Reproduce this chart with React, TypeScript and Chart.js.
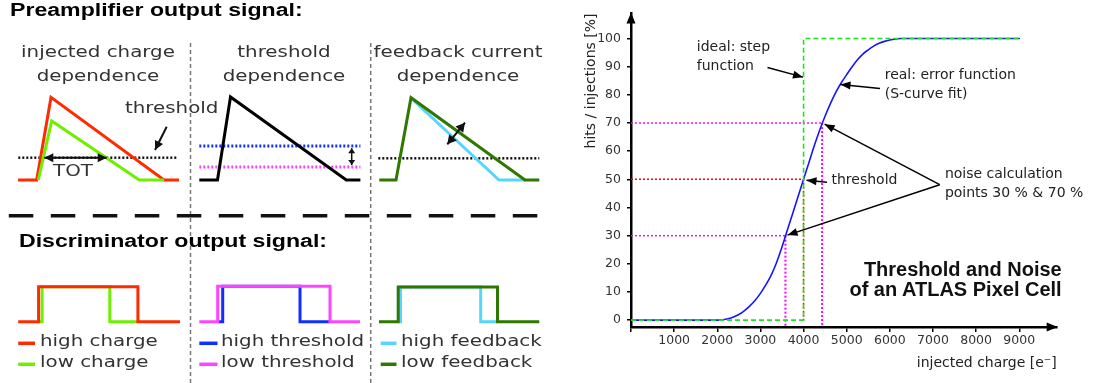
import React, { useEffect, useRef } from 'react';
import { Chart, registerables } from 'chart.js';

Chart.register(...registerables);

type P = [number, number];

// ---------------- Left schematic (time / signal in schematic units) ----------------
// Preamplifier output signals
const preHighCharge: P[] = [[18, 180], [36.7, 180], [51, 97.3], [164, 180], [179, 180]];
const preLowCharge: P[] = [[38.3, 180], [51.7, 121], [139.3, 180], [164, 180]];
const thresholdLine1: P[] = [[18.3, 157.7], [178.3, 157.7]];
const totArrow: P[] = [[44.3, 157.7], [106.7, 157.7]];
const thresholdPointer: P[] = [[166.7, 126.7], [155, 150]];

const preThresholdPulse: P[] = [[199.3, 180], [217.5, 180], [230.5, 97], [346.3, 180], [360.4, 180]];
const highThresholdLine: P[] = [[199.3, 146], [360.4, 146]];
const lowThresholdLine: P[] = [[199.3, 167], [360.4, 167]];
const thresholdShift: P[] = [[351.7, 148.3], [351.7, 165]];

const preLowFeedback: P[] = [[379.3, 180], [396, 180], [411, 97.7], [525, 180], [539.3, 180]];
const preHighFeedback: P[] = [[412, 99], [499, 180], [525, 180]];
const thresholdLine3: P[] = [[378.3, 158.3], [539.3, 158.3]];
const feedbackArrow: P[] = [[465, 122.7], [447.3, 144.3]];

// Discriminator output signals
const discHighCharge: P[] = [[18.2, 321.7], [38.6, 321.7], [38.6, 286.7], [137.9, 286.7], [137.9, 321.7], [180, 321.7]];
const discLowCharge: P[] = [[38.6, 321.7], [42.1, 321.7], [42.1, 286.7], [109.8, 286.7], [109.8, 321.7], [137.9, 321.7]];
const discLowThreshold: P[] = [[199.3, 321.7], [217.7, 321.7], [217.7, 286.2], [330, 286.2], [330, 321.7], [360, 321.7]];
const discHighThreshold: P[] = [[217.7, 321.7], [222.7, 321.7], [222.7, 286.2], [300, 286.2], [300, 321.7], [330, 321.7]];
const discLowFeedback: P[] = [[379, 321.7], [398.2, 321.7], [398.2, 287], [497.5, 287], [497.5, 321.7], [539.3, 321.7]];
const discHighFeedback: P[] = [[398.2, 321.7], [400.5, 321.7], [400.5, 287], [480.7, 287], [480.7, 321.7], [497.5, 321.7]];

// legend swatches
const swRed: P[] = [[18.2, 343.3], [35, 343.3]];
const swGreen: P[] = [[18.2, 364.3], [35, 364.3]];
const swBlue: P[] = [[199.3, 343.3], [217.5, 343.3]];
const swMagenta: P[] = [[199.3, 364.3], [217.5, 364.3]];
const swLightBlue: P[] = [[380.7, 343.3], [396.5, 343.3]];
const swDarkGreen: P[] = [[380.7, 364.3], [396.5, 364.3]];

// separators
const sep1: P[] = [[190.5, 43], [190.5, 383]];
const sep2: P[] = [[370.7, 43], [370.7, 383]];
const sectionDivider: P[] = [[8.8, 215.7], [540.4, 215.7]];

// ---------------- Right chart data ----------------
const chargeTicks = [0, 1000, 2000, 3000, 4000, 5000, 6000, 7000, 8000, 9000];
const hitTicks = [0, 10, 20, 30, 40, 50, 60, 70, 80, 90, 100];
const sCurveCharge = [
  0, 1000, 2000, 2125, 2250, 2375, 2500, 2625, 2750, 2875, 3000, 3125, 3250, 3375, 3500, 3625, 3750, 3875,
  4000, 4125, 4250, 4375, 4500, 4625, 4750, 4875, 5000, 5125, 5250, 5375, 5500, 5625, 5750, 5875, 6000,
  6125, 6250, 7000, 8000, 9000,
];
const sCurveHits = [
  0, 0, 0, 0.15, 0.5, 1.1, 2, 3.3, 5, 7, 9.5, 12.5, 16, 20.5, 26, 32, 38, 44,
  50, 56, 62, 67.5, 72.5, 77, 81, 84.3, 87.2, 90, 92.5, 94.5, 96, 97.3, 98.3, 99, 99.5,
  99.85, 100, 100, 100, 100,
];
const stepCharge = [0, 4000, 4000, 9000];
const stepHits = [0, 0, 100, 100];
const thresholdCharge = 4000;
const noise30Charge = 3580;
const noise70Charge = 4430;
const X_MAX = 9868;
const Y_MIN = -2.43;
const Y_MAX = 108.9;

const idealArrow: P[] = [[3164, 89.7], [3987, 86.3]];
const realArrow: P[] = [[5772, 82.3], [4856, 83.7]];
const thresholdArrow: P[] = [[4543, 49.0], [4068, 49.7]];
const noiseArrow70: P[] = [[7156, 48.1], [4488, 69.6]];
const noiseArrow30: P[] = [[7156, 48.1], [3628, 30.2]];

// ---------------- helpers ----------------
const RED = '#ff2a00';
const LGREEN = '#6cf000';
const BLUE = '#1030ff';
const MAGENTA = '#ff44ff';
const LBLUE = '#55d5ff';
const DGREEN = '#2f7800';

function seg(data: P[], color: string, width: number, extra: any = {}) {
  return {
    data: data.map(([x, y]) => ({ x, y })),
    borderColor: color,
    backgroundColor: color,
    borderWidth: width,
    pointRadius: 0,
    pointHoverRadius: 0,
    fill: false,
    tension: 0,
    borderCapStyle: 'butt',
    borderJoinStyle: 'miter',
    ...extra,
  };
}

function withOrder(list: any[]) {
  // list is bottom-to-top; Chart.js draws higher order first
  return list.map((d, i) => ({ ...d, order: list.length - i }));
}

const arrowPlugin = {
  id: 'arrowHeads',
  afterDatasetsDraw(chart: any) {
    const ctx = chart.ctx;
    chart.data.datasets.forEach((ds: any, i: number) => {
      if (!ds.arrow) return;
      const pts = chart.getDatasetMeta(i).data;
      const n = pts.length;
      const L = ds.arrowLength ?? 9;
      const W = ds.arrowWidth ?? 4.5;
      const head = (tip: any, from: any) => {
        const a = Math.atan2(tip.y - from.y, tip.x - from.x);
        const c = Math.cos(a), s = Math.sin(a);
        ctx.save();
        ctx.fillStyle = ds.borderColor;
        ctx.beginPath();
        ctx.moveTo(tip.x, tip.y);
        ctx.lineTo(tip.x - L * c + W * s, tip.y - L * s - W * c);
        ctx.lineTo(tip.x - L * c - W * s, tip.y - L * s + W * c);
        ctx.closePath();
        ctx.fill();
        ctx.restore();
      };
      if (ds.arrow === 'end' || ds.arrow === 'both') head(pts[n - 1], pts[n - 2]);
      if (ds.arrow === 'start' || ds.arrow === 'both') head(pts[0], pts[1]);
    });
  },
};

const axisArrowPlugin = {
  id: 'axisArrows',
  afterDraw(chart: any) {
    const { ctx, chartArea: a } = chart;
    ctx.save();
    ctx.fillStyle = '#000';
    ctx.beginPath();
    ctx.moveTo(a.left, a.top - 1);
    ctx.lineTo(a.left - 4.5, a.top + 10);
    ctx.lineTo(a.left + 4.5, a.top + 10);
    ctx.closePath();
    ctx.fill();
    ctx.beginPath();
    ctx.moveTo(a.right + 1, a.bottom);
    ctx.lineTo(a.right - 10, a.bottom - 4.5);
    ctx.lineTo(a.right - 10, a.bottom + 4.5);
    ctx.closePath();
    ctx.fill();
    ctx.restore();
  },
};

const DV = '"DejaVu Sans", Verdana, sans-serif';
const LIB = '"Liberation Sans", Arial, sans-serif';

function Label(props: {
  x: number; y: number; text: string; size: number; family?: string; bold?: boolean;
  color?: string; align?: 'left' | 'center' | 'right'; sx?: number;
}) {
  const { x, y, text, size, family = DV, bold = false, color = '#333', align = 'left', sx = 1 } = props;
  const tx = align === 'left' ? '0%' : align === 'center' ? '-50%' : '-100%';
  const origin = align === 'left' ? 'left center' : align === 'center' ? 'center center' : 'right center';
  return (
    <div
      style={{
        position: 'absolute', left: x, top: y, whiteSpace: 'nowrap',
        transform: `translate(${tx}, -50%) scaleX(${sx})`, transformOrigin: origin,
        fontFamily: family, fontSize: size, fontWeight: bold ? 700 : 400, lineHeight: 1, color,
      }}
    >
      {text}
    </div>
  );
}

export default function App() {
  const leftRef = useRef<HTMLCanvasElement>(null);
  const rightRef = useRef<HTMLCanvasElement>(null);

  useEffect(() => {
    const leftSets = withOrder([
      seg(sep1, '#777', 1.5, { borderDash: [4, 3] }),
      seg(sep2, '#777', 1.5, { borderDash: [4, 3] }),
      seg(sectionDivider, '#111', 3.5, { borderDash: [24.5, 17.5] }),
      seg(thresholdLine1, '#111', 2.5, { borderDash: [2, 2] }),
      seg(preHighCharge, RED, 3),
      seg(preLowCharge, LGREEN, 3),
      seg(totArrow, '#111', 2, { arrow: 'both', arrowLength: 9, arrowWidth: 4.5 }),
      seg(thresholdPointer, '#111', 2, { arrow: 'end', arrowLength: 9, arrowWidth: 4.5 }),
      seg(highThresholdLine, BLUE, 3, { borderDash: [2, 2] }),
      seg(lowThresholdLine, MAGENTA, 3, { borderDash: [2, 2] }),
      seg(preThresholdPulse, '#000', 3),
      seg(thresholdShift, '#111', 1.5, { arrow: 'both', arrowLength: 5, arrowWidth: 3.5 }),
      seg(thresholdLine3, '#111', 2.5, { borderDash: [2, 2] }),
      seg(preHighFeedback, LBLUE, 3),
      seg(preLowFeedback, DGREEN, 3),
      seg(feedbackArrow, '#111', 2, { arrow: 'both', arrowLength: 9, arrowWidth: 5 }),
      seg(discLowCharge, LGREEN, 3),
      seg(discHighCharge, RED, 3),
      seg(discHighThreshold, BLUE, 3),
      seg(discLowThreshold, MAGENTA, 3),
      seg(discHighFeedback, LBLUE, 3),
      seg(discLowFeedback, DGREEN, 3),
      seg(swRed, RED, 3.5),
      seg(swGreen, LGREEN, 3.5),
      seg(swBlue, BLUE, 3.5),
      seg(swMagenta, MAGENTA, 3.5),
      seg(swLightBlue, LBLUE, 3.5),
      seg(swDarkGreen, DGREEN, 3.5),
    ]);

    const left = new Chart(leftRef.current as HTMLCanvasElement, {
      type: 'line',
      data: { datasets: leftSets as any },
      options: {
        responsive: false,
        animation: false,
        events: [],
        layout: { padding: 0 },
        plugins: { legend: { display: false }, tooltip: { enabled: false }, title: { display: false } },
        scales: {
          x: { type: 'linear', min: 0, max: 555, display: false },
          y: { type: 'linear', min: 0, max: 383, reverse: true, display: false },
        },
      },
      plugins: [arrowPlugin],
    });

    const pts = (xs: number[], ys: number[]): P[] => xs.map((x, i) => [x, ys[i]]);

    const rightSets = withOrder([
      seg([[0, 70], [noise70Charge, 70]], '#ff00ff', 1.4, { borderDash: [2, 2] }),
      seg([[noise70Charge, 70], [noise70Charge, Y_MIN]], '#ff00ff', 2, { borderDash: [2, 2] }),
      seg([[0, 30], [noise30Charge, 30]], '#ff00ff', 1.4, { borderDash: [2, 2] }),
      seg([[noise30Charge, 30], [noise30Charge, Y_MIN]], '#ff00ff', 2, { borderDash: [2, 2] }),
      seg([[0, 50], [thresholdCharge, 50], [thresholdCharge, 0]], '#ff0000', 1.5, { borderDash: [2, 2] }),
      seg(pts(sCurveCharge, sCurveHits), '#1515ff', 1.6, { cubicInterpolationMode: 'monotone', borderCapStyle: 'round', borderJoinStyle: 'round' }),
      seg(pts(stepCharge, stepHits), '#22e022', 1.6, { borderDash: [5, 3] }),
      seg(idealArrow, '#000', 1.5, { arrow: 'end', arrowLength: 10, arrowWidth: 4 }),
      seg(realArrow, '#000', 1.5, { arrow: 'end', arrowLength: 10, arrowWidth: 4 }),
      seg(thresholdArrow, '#000', 1.5, { arrow: 'end', arrowLength: 10, arrowWidth: 4 }),
      seg(noiseArrow70, '#000', 1.5, { arrow: 'end', arrowLength: 10, arrowWidth: 4 }),
      seg(noiseArrow30, '#000', 1.5, { arrow: 'end', arrowLength: 10, arrowWidth: 4 }),
    ]);

    const tickFont = { family: DV, size: 12.5 };
    const titleFont = { family: DV, size: 14 };

    const right = new Chart(rightRef.current as HTMLCanvasElement, {
      type: 'line',
      data: { datasets: rightSets as any },
      options: {
        responsive: false,
        animation: false,
        events: [],
        layout: { padding: { left: 0, right: 41.3, top: 7, bottom: 0 } },
        plugins: { legend: { display: false }, tooltip: { enabled: false }, title: { display: false } },
        scales: {
          x: {
            type: 'linear', min: 0, max: X_MAX,
            afterBuildTicks: (s: any) => { s.ticks = chargeTicks.map((v) => ({ value: v })); },
            afterFit: (s: any) => { s.height = 56; },
            grid: { display: true, drawOnChartArea: false, drawTicks: true, tickLength: 5, color: '#000', lineWidth: 1.5 },
            border: { display: true, color: '#000', width: 2.5 },
            ticks: {
              callback: (v: any) => (v === 0 ? '' : String(v)),
              font: tickFont, color: '#333', padding: 1, maxRotation: 0, autoSkip: false,
            },
            title: {
              display: true, text: 'injected charge [e\u207B]', align: 'end', font: titleFont, color: '#222',
              padding: { top: 0, bottom: 11.6 },
            },
          },
          y: {
            type: 'linear', min: Y_MIN, max: Y_MAX,
            afterBuildTicks: (s: any) => { s.ticks = hitTicks.map((v) => ({ value: v })); },
            afterFit: (s: any) => { s.width = 76; },
            grid: { display: true, drawOnChartArea: false, drawTicks: true, tickLength: 4, color: '#000', lineWidth: 1.5 },
            border: { display: true, color: '#000', width: 2.5 },
            ticks: { callback: (v: any) => String(v), font: tickFont, color: '#333', padding: 6, autoSkip: false },
            title: {
              display: true, text: 'hits / injections [%]', align: 'end', font: titleFont, color: '#222',
              padding: { top: 27.6, bottom: 0 },
            },
          },
        },
      },
      plugins: [arrowPlugin, axisArrowPlugin],
    });

    return () => {
      left.destroy();
      right.destroy();
    };
  }, []);

  const LS = 15.5; // schematic label size
  const SX = 1.28; // horizontal stretch of the schematic text
  const TS = 17.5;
  const TSX = 1.32;

  return (
    <div style={{ position: 'absolute', left: 0, top: 0, width: 1098, height: 383, background: '#fff', overflow: 'hidden' }}>
      <canvas ref={leftRef} width={555} height={383} style={{ position: 'absolute', left: 0, top: 0, width: 555, height: 383 }} />
      <canvas ref={rightRef} width={543} height={383} style={{ position: 'absolute', left: 555, top: 0, width: 543, height: 383 }} />

      <Label x={9.8} y={11} text="Preamplifier output signal:" size={TS} family={LIB} bold color="#000" sx={TSX} />
      <Label x={98.2} y={53.3} text="injected charge" size={LS} align="center" sx={SX} />
      <Label x={98.2} y={77.3} text="dependence" size={LS} align="center" sx={SX} />
      <Label x={283.5} y={53.3} text="threshold" size={LS} align="center" sx={SX} />
      <Label x={283.5} y={77.3} text="dependence" size={LS} align="center" sx={SX} />
      <Label x={457.9} y={53.3} text="feedback current" size={LS} align="center" sx={SX} />
      <Label x={457.9} y={77.3} text="dependence" size={LS} align="center" sx={SX} />
      <Label x={125} y={109} text="threshold" size={LS} sx={SX} />
      <Label x={72.7} y={171.7} text="TOT" size={LS} align="center" sx={SX} />

      <Label x={19.3} y={241.7} text="Discriminator output signal:" size={TS} family={LIB} bold color="#000" sx={TSX} />
      <Label x={40.4} y={342} text="high charge" size={LS} sx={SX} />
      <Label x={40.4} y={363} text="low charge" size={LS} sx={SX} />
      <Label x={221} y={342} text="high threshold" size={LS} sx={SX} />
      <Label x={221} y={363} text="low threshold" size={LS} sx={SX} />
      <Label x={400.7} y={342} text="high feedback" size={LS} sx={SX} />
      <Label x={400.7} y={363} text="low feedback" size={LS} sx={SX} />

      <Label x={696.8} y={45.7} text="ideal: step" size={14} color="#222" />
      <Label x={696.8} y={64.5} text="function" size={14} color="#222" />
      <Label x={884.7} y={73.7} text="real: error function" size={14} color="#222" />
      <Label x={884.7} y={93} text="(S-curve fit)" size={14} color="#222" />
      <Label x={831.5} y={178.5} text="threshold" size={14} color="#222" />
      <Label x={944.9} y={172.5} text="noise calculation" size={14} color="#222" />
      <Label x={944.9} y={192.3} text="points 30 % & 70 %" size={14} color="#222" />
      <Label x={1061.7} y={269} text="Threshold and Noise" size={20} family={LIB} bold color="#111" align="right" />
      <Label x={1061.7} y={289} text="of an ATLAS Pixel Cell" size={20} family={LIB} bold color="#111" align="right" />
    </div>
  );
}
